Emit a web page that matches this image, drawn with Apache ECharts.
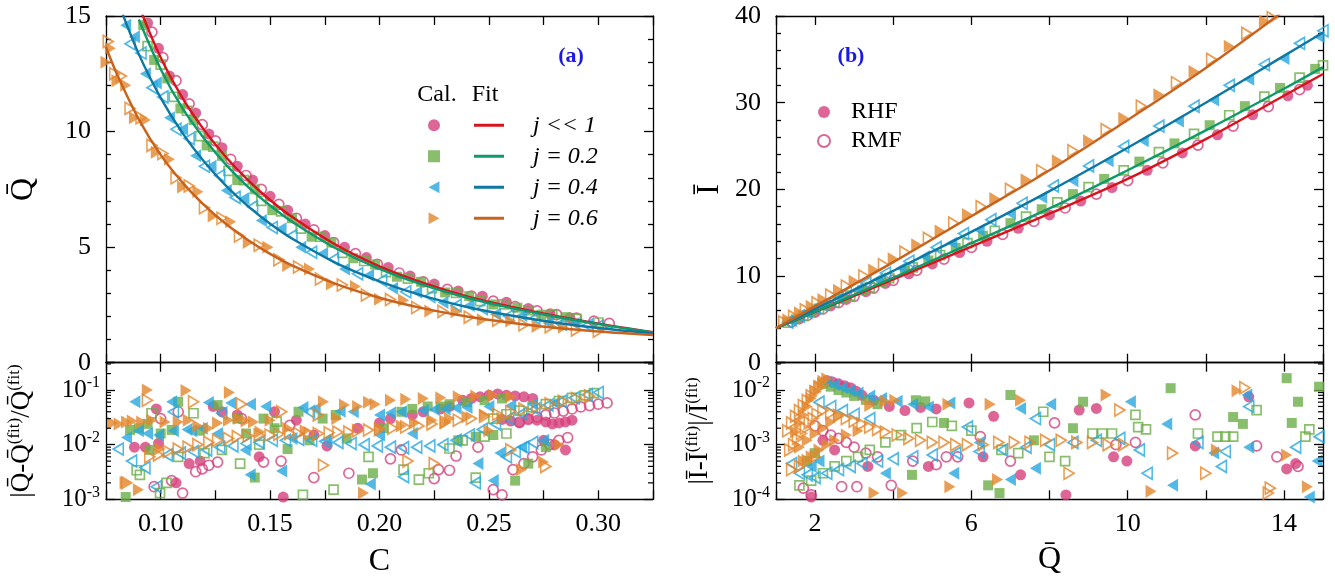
<!DOCTYPE html>
<html><head><meta charset="utf-8">
<script src="https://cdn.jsdelivr.net/npm/echarts@6/dist/echarts.min.js"></script>
<style>html,body{margin:0;padding:0;background:#fff}#c{width:1335px;height:577px}</style>
</head><body><div id="c"></div>
<script>
// ---------- Panel (a), upper: calculated points (C, Qbar) ----------
const a_hfC0 = [0.094,0.099,0.104,0.110,0.116,0.122,0.128,0.135,0.142,0.150,0.158,0.166,0.175,0.184,0.194,0.204,0.214,0.225,0.236,0.247,0.258,0.268,0.278,0.287];
const a_hfQ0 = [14.7,13.6,12.4,11.6,10.8,9.9,9.3,8.5,7.9,7.2,6.6,6.0,5.5,5.0,4.55,4.12,3.75,3.4,3.1,2.88,2.62,2.34,2.12,1.95];
const a_mfC0 = [0.096,0.101,0.107,0.113,0.119,0.125,0.132,0.139,0.146,0.154,0.162,0.170,0.179,0.189,0.199,0.209,0.220,0.231,0.242,0.252,0.262,0.272,0.281,0.290,0.298,0.305];
const a_mfQ0 = [14.3,13.2,12.2,11.2,10.3,9.6,8.8,8.1,7.5,6.85,6.25,5.75,5.2,4.72,4.26,3.88,3.5,3.17,2.88,2.66,2.43,2.24,2.08,1.93,1.8,1.7];
const a_hfC1 = [0.092,0.097,0.103,0.109,0.115,0.121,0.128,0.135,0.143,0.151,0.160,0.169,0.178,0.188,0.198,0.208,0.219,0.230,0.241,0.252,0.263,0.274,0.285];
const a_hfQ1 = [14.6,13.1,12.3,11.0,10.5,9.4,8.95,7.9,7.5,6.6,6.25,5.45,5.2,4.52,4.25,3.72,3.5,3.04,2.88,2.52,2.38,2.08,1.97];
const a_mfC1 = [0.094,0.100,0.106,0.112,0.118,0.124,0.131,0.138,0.146,0.155,0.164,0.173,0.183,0.193,0.203,0.213,0.224,0.235,0.246,0.257,0.268,0.279,0.290,0.300];
const a_mfQ1 = [13.7,12.9,11.5,10.9,9.8,9.35,8.3,7.9,7.0,6.55,5.8,5.45,4.75,4.4,3.92,3.64,3.23,3.02,2.66,2.52,2.27,2.07,1.9,1.74];
const a_hfC2 = [0.084,0.088,0.093,0.098,0.104,0.110,0.116,0.123,0.130,0.138,0.146,0.155,0.164,0.174,0.184,0.195,0.206,0.217,0.229,0.241,0.253,0.265,0.277,0.289];
const a_hfQ2 = [14.6,14.1,12.5,12.1,10.6,10.1,8.95,8.5,7.45,7.1,6.15,5.8,5.0,4.72,4.05,3.78,3.22,3.05,2.6,2.47,2.1,2.04,1.72,1.7];
const a_mfC2 = [0.086,0.091,0.096,0.101,0.107,0.113,0.120,0.127,0.134,0.142,0.151,0.160,0.169,0.179,0.190,0.201,0.212,0.223,0.235,0.247,0.259,0.271,0.283,0.295,0.300];
const a_mfQ2 = [13.8,13.4,11.9,11.5,10.1,9.7,8.5,8.1,7.15,6.75,5.85,5.5,4.78,4.48,3.85,3.56,3.07,2.88,2.48,2.35,2.02,1.93,1.68,1.62,1.58];
const a_hfC3 = [0.075,0.077,0.080,0.084,0.088,0.093,0.098,0.104,0.110,0.117,0.124,0.132,0.140,0.149,0.158,0.168,0.178,0.189,0.200,0.211,0.223,0.235,0.247,0.260,0.272,0.284];
const a_hfQ3 = [13.0,13.6,12.2,12.0,10.6,10.5,9.1,8.8,7.6,7.4,6.35,6.1,5.2,5.0,4.2,4.05,3.4,3.3,2.74,2.7,2.24,2.2,1.86,1.8,1.57,1.53];
const a_mfC3 = [0.076,0.079,0.082,0.086,0.091,0.096,0.101,0.107,0.113,0.120,0.128,0.136,0.145,0.154,0.163,0.173,0.183,0.194,0.205,0.217,0.229,0.241,0.254,0.266,0.278,0.290,0.300];
const a_mfQ3 = [13.9,12.5,12.4,11.0,10.6,9.4,9.05,8.0,7.65,6.7,6.25,5.48,5.08,4.45,4.14,3.62,3.36,2.93,2.73,2.39,2.22,1.97,1.84,1.64,1.56,1.42,1.36];

// ---------- Panel (a), fits ----------
const a_fitC01 = [0.09,0.10,0.11,0.12,0.13,0.14,0.15,0.16,0.18,0.20,0.22,0.24,0.26,0.28,0.30,0.325];
const a_fitQ0 = [15.45,13.2,11.45,10.05,8.88,7.89,7.04,6.31,5.10,4.17,3.45,2.87,2.42,2.03,1.69,1.32];
const a_fitQ1 = [14.85,12.7,11.0,9.68,8.55,7.6,6.8,6.1,4.95,4.06,3.37,2.81,2.37,2.0,1.67,1.31];
const a_fitC2 = [0.08,0.09,0.10,0.11,0.12,0.13,0.14,0.15,0.16,0.18,0.20,0.22,0.24,0.26,0.28,0.30,0.325];
const a_fitQ2 = [15.74,13.35,11.46,9.93,8.68,7.64,6.76,6.01,5.37,4.32,3.52,2.89,2.41,2.04,1.74,1.50,1.27];
const a_fitC3 = [0.075,0.08,0.09,0.10,0.11,0.12,0.13,0.14,0.15,0.16,0.18,0.20,0.22,0.24,0.26,0.28,0.30,0.325];
const a_fitQ3 = [13.66,12.49,10.53,8.99,7.79,6.81,5.99,5.30,4.71,4.21,3.41,2.81,2.35,2.00,1.73,1.51,1.35,1.20];

// ---------- Panel (a), lower: relative deviations ----------
const a_rhC0 = [0.088,0.098,0.099,0.107,0.113,0.124,0.128,0.152,0.156,0.162,0.176,0.190,0.205,0.215,0.228,0.238,0.242,0.246,0.250,0.254,0.258,0.262,0.266,0.270,0.268,0.272,0.276,0.279,0.282,0.285,0.288,0.275,0.280,0.285,0.093,0.118,0.135,0.145,0.170,0.200,0.220,0.232,0.256,0.260,0.264];
const a_rhR0 = [0.009,0.045,0.0105,0.002,0.0045,0.05,0.04,0.04,0.0011,0.028,0.0095,0.02,0.03,0.035,0.045,0.065,0.07,0.075,0.08,0.085,0.08,0.078,0.075,0.07,0.03,0.028,0.026,0.024,0.025,0.026,0.028,0.012,0.01,0.008,0.009,0.005,0.035,0.006,0.015,0.025,0.04,0.05,0.029,0.027,0.025];
const a_rmC0 = [0.097,0.100,0.105,0.108,0.110,0.116,0.119,0.122,0.126,0.137,0.147,0.155,0.159,0.170,0.186,0.205,0.210,0.225,0.227,0.235,0.232,0.245,0.252,0.256,0.261,0.264,0.268,0.272,0.276,0.280,0.284,0.288,0.292,0.296,0.300,0.304,0.266,0.270,0.274,0.278,0.282,0.286];
const a_rmR0 = [0.0017,0.03,0.0022,0.04,0.0013,0.0032,0.0036,0.0042,0.0048,0.03,0.0048,0.005,0.0226,0.0025,0.003,0.0055,0.008,0.0024,0.0035,0.0062,0.0034,0.009,0.0015,0.0012,0.0035,0.026,0.029,0.032,0.035,0.038,0.041,0.045,0.049,0.052,0.055,0.058,0.0045,0.006,0.008,0.010,0.012,0.0135];
const a_rhC1 = [0.084,0.086,0.094,0.095,0.105,0.108,0.126,0.135,0.143,0.152,0.158,0.163,0.174,0.185,0.192,0.197,0.202,0.210,0.222,0.232,0.240,0.248,0.256,0.262,0.268,0.276,0.090,0.100,0.118,0.139,0.147,0.168,0.180,0.215,0.228,0.236,0.244,0.252];
const a_rhR1 = [0.0011,0.0186,0.024,0.008,0.0186,0.061,0.053,0.03,0.0025,0.02,0.0083,0.04,0.03,0.013,0.0023,0.003,0.02,0.04,0.05,0.055,0.06,0.065,0.07,0.0022,0.0045,0.009,0.02,0.016,0.018,0.016,0.03,0.012,0.035,0.045,0.05,0.012,0.014,0.015];
const a_rmC1 = [0.089,0.0905,0.0958,0.0997,0.1027,0.108,0.115,0.120,0.128,0.1363,0.145,0.153,0.165,0.179,0.195,0.211,0.218,0.2225,0.232,0.244,0.252,0.258,0.264,0.270,0.276,0.282,0.288,0.294,0.298,0.238,0.248,0.258];
const a_rmR1 = [0.0034,0.0028,0.0376,0.0013,0.002,0.006,0.0376,0.007,0.008,0.0045,0.01,0.0264,0.0012,0.0015,0.006,0.0035,0.0023,0.003,0.0085,0.0025,0.03,0.036,0.042,0.048,0.055,0.063,0.072,0.08,0.088,0.012,0.014,0.016];
const a_rhC2 = [0.0882,0.0898,0.0844,0.105,0.1058,0.112,0.119,0.1218,0.1386,0.1409,0.141,0.1553,0.1706,0.182,0.1958,0.200,0.210,0.220,0.230,0.240,0.250,0.260,0.270,0.280,0.200,0.215,0.245,0.255,0.265,0.275,0.252,0.094,0.099,0.114,0.126,0.132,0.148,0.160,0.165,0.176,0.188,0.205,0.225,0.235];
const a_rhR2 = [0.061,0.018,0.0135,0.061,0.018,0.019,0.02,0.059,0.008,0.0028,0.055,0.0033,0.045,0.041,0.0019,0.035,0.04,0.042,0.045,0.048,0.05,0.052,0.055,0.058,0.015,0.016,0.0045,0.007,0.009,0.012,0.0022,0.016,0.015,0.018,0.016,0.058,0.05,0.013,0.048,0.012,0.04,0.038,0.044,0.047];
const a_rmC2 = [0.0806,0.0867,0.0928,0.098,0.1058,0.1279,0.168,0.103,0.109,0.115,0.121,0.127,0.133,0.139,0.145,0.151,0.157,0.163,0.169,0.175,0.181,0.187,0.193,0.199,0.205,0.211,0.217,0.223,0.229,0.235,0.241,0.247,0.253,0.259,0.265,0.271,0.277,0.283,0.289,0.295,0.300,0.211,0.2438,0.258,0.262,0.266,0.270];
const a_rmR2 = [0.0083,0.005,0.0038,0.0017,0.04,0.0376,0.04,0.0065,0.007,0.0075,0.008,0.009,0.0095,0.0105,0.011,0.012,0.012,0.0125,0.012,0.0115,0.011,0.0105,0.01,0.0095,0.009,0.0088,0.009,0.0095,0.01,0.012,0.015,0.019,0.024,0.03,0.037,0.045,0.053,0.062,0.072,0.082,0.09,0.0026,0.002,0.006,0.0075,0.009,0.011];
const a_rhC3 = [0.0939,0.1116,0.1314,0.1744,0.184,0.0844,0.0913,0.096,0.108,0.1126,0.1218,0.131,0.1355,0.1424,0.1805,0.0837,0.0898,0.0997,0.1454,0.195,0.205,0.212,0.220,0.228,0.236,0.244,0.252,0.260,0.1927,0.275,0.282,0.200,0.210,0.230,0.250,0.265,0.078,0.081,0.087,0.102,0.117,0.126,0.139,0.150,0.158,0.166,0.190,0.198,0.216,0.224,0.232,0.240,0.248,0.256];
const a_rhR3 = [0.1,0.098,0.09,0.061,0.053,0.026,0.026,0.028,0.026,0.028,0.02,0.028,0.03,0.026,0.03,0.002,0.0015,0.0083,0.017,0.06,0.065,0.068,0.07,0.072,0.075,0.078,0.08,0.075,0.0013,0.0048,0.01,0.02,0.022,0.025,0.018,0.0035,0.025,0.024,0.027,0.026,0.022,0.025,0.027,0.028,0.02,0.018,0.05,0.055,0.025,0.028,0.03,0.032,0.035,0.03];
const a_rmC3 = [0.0939,0.115,0.137,0.1553,0.172,0.0844,0.095,0.099,0.1035,0.108,0.1125,0.117,0.122,0.126,0.131,0.135,0.140,0.145,0.150,0.154,0.159,0.163,0.168,0.172,0.177,0.181,0.186,0.190,0.195,0.200,0.206,0.212,0.218,0.224,0.230,0.236,0.242,0.248,0.254,0.260,0.266,0.272,0.278,0.284,0.290,0.296,0.1744,0.213,0.225,0.260,0.276];
const a_rmR3 = [0.065,0.061,0.055,0.04,0.035,0.002,0.006,0.0065,0.0075,0.0083,0.009,0.01,0.011,0.012,0.013,0.014,0.0145,0.015,0.015,0.0155,0.016,0.016,0.016,0.016,0.0165,0.017,0.017,0.018,0.0185,0.019,0.02,0.021,0.022,0.024,0.026,0.028,0.03,0.033,0.036,0.04,0.045,0.05,0.056,0.062,0.07,0.078,0.0042,0.005,0.0045,0.008,0.004];

// ---------- Panel (b), upper: calculated points (Qbar, Ibar) ----------
const b_hfQ0 = [1.6,2.0,2.4,2.8,3.3,3.8,4.4,5.0,5.7,6.4,7.2,8.0,8.8,9.6,10.5,11.4,12.3,13.2,14.1,14.6];
const b_hfI0 = [5.05,5.8,6.55,7.3,8.2,9.15,10.25,11.4,12.7,14.0,15.5,17.05,18.65,20.2,22.2,24.2,26.3,28.6,30.8,32.0];
const b_mfQ0 = [1.4,1.8,2.2,2.6,3.0,3.5,4.0,4.6,5.3,6.0,6.8,7.6,8.4,9.2,10.0,10.9,11.8,12.7,13.6,14.4];
const b_mfI0 = [4.72,5.45,6.2,6.92,7.66,8.6,9.5,10.65,11.95,13.3,14.8,16.3,17.85,19.45,21.0,23.05,25.1,27.3,29.55,31.5];
const b_hfQ1 = [1.5,1.9,2.3,2.7,3.2,3.7,4.3,4.9,5.6,6.3,7.0,7.8,8.6,9.4,10.3,11.2,12.1,13.0,13.9,14.8];
const b_hfI1 = [5.0,5.8,6.6,7.35,8.35,9.3,10.6,11.8,13.25,14.65,16.1,17.7,19.45,21.2,23.2,25.3,27.4,29.6,31.7,33.9];
const b_mfQ1 = [1.3,1.7,2.1,2.5,2.9,3.4,3.9,4.5,5.2,5.9,6.6,7.4,8.2,9.0,9.9,10.8,11.7,12.6,13.5,14.4,15.0];
const b_mfI1 = [4.62,5.4,6.2,6.95,7.75,8.7,9.75,11.0,12.4,13.8,15.2,16.85,18.5,20.25,22.2,24.3,26.4,28.55,30.7,32.9,34.3];
const b_hfQ2 = [1.4,1.8,2.2,2.6,3.1,3.6,4.2,4.8,5.5,6.2,7.0,7.8,8.6,9.5,10.4,11.3,12.2,13.1,14.0,14.9];
const b_hfI2 = [4.85,5.7,6.55,7.45,8.5,9.6,10.9,12.25,13.8,15.3,17.2,19.1,21.0,23.3,25.6,27.9,30.3,32.7,35.1,37.6];
const b_mfQ2 = [1.3,1.6,2.0,2.4,2.8,3.3,3.8,4.4,5.1,5.8,6.5,7.3,8.1,9.0,9.9,10.8,11.7,12.6,13.5,14.4,15.0];
const b_mfI2 = [4.7,5.4,6.3,7.2,8.1,9.2,10.35,11.7,13.3,14.9,16.5,18.4,20.4,22.7,24.95,27.3,29.6,32.0,34.4,36.85,38.3];
const b_hfQ3 = [1.3,1.6,1.9,2.2,2.6,3.0,3.5,4.0,4.6,5.2,5.9,6.6,7.4,8.2,9.0,9.9,10.8,11.7,12.6,13.5];
const b_hfI3 = [4.95,5.75,6.5,7.3,8.35,9.4,10.7,12.0,13.6,15.2,17.1,18.95,21.1,23.3,25.6,28.2,30.9,33.6,36.5,39.4];
const b_mfQ3 = [1.2,1.45,1.75,2.05,2.4,2.8,3.25,3.75,4.3,4.9,5.55,6.25,7.0,7.8,8.6,9.45,10.35,11.25,12.15,13.05,13.7];
const b_mfI3 = [4.7,5.35,6.1,6.9,7.8,8.85,10.0,11.3,12.75,14.35,16.1,18.0,20.0,22.15,24.45,26.9,29.6,32.3,35.0,38.0,39.8];

// ---------- Panel (b), fits ----------
const b_fitQ = [1,2,4,6,8,10,12,14,15];
const b_fitI0 = [4.0,5.85,9.6,13.4,17.2,21.2,25.8,30.8,33.3];
const b_fitI1 = [4.0,5.9,9.8,13.8,17.8,22.2,26.8,31.6,34.1];
const b_fitI2 = [4.0,6.2,10.6,15.1,19.8,24.8,30.0,35.4,38.1];
const b_fitQ3 = [1,2,4,6,8,10,12,14];
const b_fitI3 = [4.0,6.5,11.6,16.9,22.2,28.0,34.0,40.6];

// ---------- Panel (b), lower: relative deviations ----------
const b_rhQ0 = [2.3,2.45,2.6,2.75,2.9,3.05,3.2,3.5,3.9,4.3,4.7,5.1,5.94,6.57,7.26,8.42,8.76,9.2,9.64,9.98,11.73,13.1,14.07,14.3,2.2,2.5,3.35,1.9,4.9,6.3];
const b_rhR0 = [0.015,0.014,0.013,0.012,0.011,0.0095,0.008,0.0065,0.005,0.0042,0.0048,0.0045,0.0058,0.0033,0.00028,0.00012,0.0043,0.0046,0.0006,0.0005,0.00095,0.0075,0.00036,0.00045,0.0012,0.0008,0.0004,0.00011,0.0004,0.0006];
const b_rmQ0 = [11.73,13.82,13.3,8.13,6.23,2.68,3.07,3.95,5.1,5.36,5.65,14.36,2.0,2.2,2.4,2.6,2.8,3.0,3.3,3.6,4.5,7.0,9.7,10.2,1.7,1.9];
const b_rmR0 = [0.0035,0.0006,0.00095,0.0025,0.0014,0.00017,0.00017,0.00018,0.00043,0.0006,0.0006,0.0004,0.0022,0.0018,0.0015,0.0013,0.0011,0.0009,0.0007,0.0006,0.0005,0.0005,0.001,0.0011,0.00016,0.00012];
const b_rhQ1 = [4.58,4.82,7.0,8.86,8.6,11.1,12.7,12.95,14.2,14.36,14.9,14.07,6.43,6.72,4.48,2.2,2.4,2.6,2.8,3.0,3.3,3.6,1.8,2.0,5.3,7.6];
const b_rhR1 = [0.0065,0.0062,0.0081,0.0061,0.002,0.0108,0.0032,0.0024,0.0025,0.0061,0.0115,0.0165,0.00018,0.00013,0.00028,0.013,0.0115,0.01,0.009,0.0078,0.0066,0.0055,0.0005,0.0007,0.0025,0.0012];
const b_rmQ1 = [7.84,10.2,10.27,10.47,13.3,11.8,12.3,12.5,12.7,14.55,14.65,9.1,9.35,9.6,6.77,1.6,1.9,2.2,2.5,2.8,3.1,3.4,3.8,4.2,4.6,5.0,5.5,6.0,7.2,8.0,8.4];
const b_rmR1 = [0.004,0.0035,0.0021,0.0019,0.0043,0.0016,0.0014,0.0014,0.0014,0.0014,0.0019,0.0016,0.0016,0.0016,0.0008,0.00018,0.00022,0.0003,0.0004,0.0005,0.0006,0.0008,0.0011,0.0015,0.002,0.0026,0.0022,0.0018,0.0007,0.0006,0.0005];
const b_rhQ2 = [5.45,7.26,8.03,10.07,11.0,13.05,13.1,14.85,14.65,5.55,7.0,7.64,11.15,3.8,2.3,2.5,2.7,2.9,3.1,3.4,3.7,4.1,4.5,4.9,1.9,2.1,6.2,12.2];
const b_rhR2 = [0.0058,0.0046,0.0055,0.0061,0.0024,0.0081,0.0009,0.0005,0.00011,0.0003,0.00023,0.00037,0.00018,0.0003,0.014,0.0125,0.011,0.0098,0.0088,0.0078,0.007,0.0062,0.0055,0.0049,0.0004,0.0005,0.0011,0.0007];
const b_rmQ2 = [7.64,5.9,10.3,11.8,12.5,13.1,14.3,14.9,10.5,12.4,1.4,1.6,1.8,2.0,2.3,2.6,2.9,3.2,3.6,4.0,4.5,5.0,5.6,6.2,6.8,7.4,8.0,8.6,9.2,9.8,2.1,2.4,2.7,3.0,3.4];
const b_rmR2 = [0.003,0.0021,0.0008,0.0011,0.00075,0.005,0.0009,0.0014,0.0003,0.0004,0.00045,0.0003,0.00028,0.00025,0.0003,0.00035,0.0004,0.00045,0.0005,0.00055,0.0006,0.00065,0.0007,0.00075,0.0008,0.0009,0.001,0.0011,0.0012,0.0013,0.006,0.005,0.0042,0.0036,0.003];
const b_rhQ3 = [1.5,1.6,1.7,1.8,1.9,2.0,2.1,2.2,2.3,1.6,1.8,2.0,2.2,2.4,2.6,1.7,1.9,2.1,2.3,2.5,2.8,3.1,4.04,5.4,6.48,7.26,9.45,12.8,3.51,4.24,5.45,6.67,10.6,14.6,14.07,12.27,3.4,3.8];
const b_rhR3 = [0.0017,0.0025,0.0035,0.005,0.007,0.0095,0.012,0.0145,0.016,0.0009,0.0012,0.0016,0.002,0.0026,0.0033,0.0005,0.0006,0.0008,0.001,0.0012,0.0015,0.0018,0.0065,0.0055,0.0055,0.0065,0.0081,0.0097,0.00013,0.00013,0.00017,0.00023,0.00014,0.00017,0.00065,0.0008,0.0052,0.0062];
const b_rmQ3 = [1.3,1.4,1.5,1.6,1.7,1.8,1.9,2.0,2.1,2.2,1.35,1.45,1.55,1.65,1.75,1.85,1.95,2.05,2.2,2.4,2.6,2.8,3.0,3.2,3.4,3.6,3.8,4.1,4.4,4.7,5.0,5.3,5.6,5.9,6.3,6.7,7.1,7.5,7.9,8.3,8.7,9.1,9.5,9.9,9.8,8.5,11.15,12.0,13.6,13.65,13.0,1.4,1.6,1.8,2.0];
const b_rmR3 = [0.0018,0.0025,0.0033,0.0042,0.0052,0.0064,0.0078,0.0093,0.011,0.0125,0.0008,0.001,0.0013,0.0016,0.002,0.0025,0.003,0.0036,0.0042,0.0038,0.0034,0.003,0.0027,0.0024,0.0021,0.0019,0.0017,0.0015,0.0013,0.0012,0.0011,0.0011,0.001,0.001,0.001,0.0011,0.0011,0.0011,0.0012,0.0012,0.0011,0.0011,0.001,0.001,0.0043,0.0003,0.0007,0.0003,0.00013,0.00016,0.011,0.00035,0.0004,0.0005,0.0006];

// ---------- tick values ----------
const aXLabels = [0.10,0.15,0.20,0.25,0.30];
const bXLabels = [2,6,10,14];
const logMinorA = [0.002,0.003,0.004,0.005,0.006,0.007,0.008,0.009,0.02,0.03,0.04,0.05,0.06,0.07,0.08,0.09,0.2,0.3];
const logMinorB = [0.0002,0.0003,0.0004,0.0005,0.0006,0.0007,0.0008,0.0009,0.002,0.003,0.004,0.005,0.006,0.007,0.008,0.009,0.02,0.03];
const fitNames = ['j << 1','j = 0.2','j = 0.4','j = 0.6'];

// ---------- styles ----------
const FONT = '"Liberation Serif", "Times New Roman", serif';
const CAL = ['#D6407C','#6BAF47','#27A8E0','#E3862C'];
const FIT = ['#D7141C','#0E9A6A','#0E77A2','#C8621C'];
const SYM = ['circle','rect','path://M10,0L0,5.5L10,11Z','path://M0,0L10,5.5L0,11Z'];
const SIZE = [[11,11],[10,10],[11,13],[11,13]];

const pairs = (xs, ys) => xs.slice(0, Math.min(xs.length, ys.length)).map((x, i) => [x, ys[i]]);

function cal(name, xi, yi, data, j, open) {
  const s = SIZE[j];
  return {
    type: 'scatter', name, xAxisIndex: xi, yAxisIndex: yi, data,
    symbol: SYM[j], symbolSize: open ? [s[0] - 1, s[1] - 1] : s,
    z: 2, silent: true, clip: true,
    itemStyle: open ? {color: 'rgba(255,255,255,0)', borderColor: CAL[j], borderWidth: 1.7} : {color: CAL[j], borderWidth: 0}
  };
}
function fit(name, xi, yi, data, j) {
  return {type: 'line', name, xAxisIndex: xi, yAxisIndex: yi, data, smooth: 0.35, symbol: 'none', showSymbol: false,
    z: 4, silent: true, clip: true, color: FIT[j], lineStyle: {color: FIT[j], width: 2.4}};
}
function minorTicks(xi, yi, vals, x0) {
  return {type: 'custom', xAxisIndex: xi, yAxisIndex: yi, silent: true, z: 6, clip: false,
    data: vals.map(v => [x0, v]),
    renderItem: (params, api) => {
      const cs = params.coordSys;
      const y = api.coord([api.value(0), api.value(1)])[1];
      const st = {stroke: '#000', lineWidth: 1.2};
      return {type: 'group', children: [
        {type: 'line', shape: {x1: cs.x, y1: y, x2: cs.x + 5, y2: y}, style: st},
        {type: 'line', shape: {x1: cs.x + cs.width - 5, y1: y, x2: cs.x + cs.width, y2: y}, style: st}
      ]};
    }};
}

const grids = [
  {left: 106, top: 16, width: 547, height: 346.7},
  {left: 106, top: 362.7, width: 547, height: 136.6},
  {left: 776, top: 16, width: 547, height: 346.7},
  {left: 776, top: 362.7, width: 547, height: 136.6}
].map(g => Object.assign({containLabel: false, outerBoundsMode: 'none', show: false}, g));

const lineSt = {color: '#000', width: 1.3};
function ax(gridIndex, position, extra) {
  return Object.assign({
    gridIndex, position, type: 'value',
    axisLine: {show: true, onZero: false, lineStyle: lineSt},
    axisTick: {show: true, inside: true, length: 9, lineStyle: lineSt},
    minorTick: {show: false},
    axisLabel: {show: false},
    splitLine: {show: false}, minorSplitLine: {show: false}
  }, extra);
}
const lab = (extra) => Object.assign({show: true, color: '#000', fontFamily: FONT, fontSize: 26}, extra);
const aX = {min: 0.075, max: 0.325, interval: 0.025};
const bX = {min: 1, max: 15, minInterval: 2, maxInterval: 2, splitNumber: 7};
const aY = {min: 0, max: 15, interval: 5, minorTick: {show: true, splitNumber: 5, length: 5, lineStyle: lineSt}};
const bY = {min: 0, max: 40, interval: 10, minorTick: {show: true, splitNumber: 5, length: 5, lineStyle: lineSt}};
const logA = {type: 'log', logBase: 10, min: 0.001, max: Math.pow(10, -0.5)};
const logB = {type: 'log', logBase: 10, min: 0.0001, max: Math.pow(10, -1.5)};
const logFmt = v => { const e = Math.log10(v); const n = Math.round(e); return Math.abs(e - n) < 1e-6 ? '10{s|' + n + '}' : ''; };
const logLab = lab({fontSize: 25, margin: 6, lineHeight: 30, formatter: logFmt,
  rich: {s: {fontSize: 16, fontFamily: FONT, color: '#000', verticalAlign: 'top', lineHeight: 16}}});
const nameSt = (size, extra) => Object.assign({fontFamily: FONT, fontSize: size, color: '#000'}, extra);
const supRich = {s: {fontSize: 17, fontFamily: FONT, color: '#000', verticalAlign: 'top', lineHeight: 17}};

const xAxes = [
  ax(0, 'bottom', aX), ax(0, 'top', aX),
  ax(1, 'bottom', Object.assign({}, aX, {
    axisLabel: lab({margin: 12, interval: 0, formatter: v => aXLabels.some(t => Math.abs(t - v) < 1e-6) ? v.toFixed(2) : ''}),
    name: 'C', nameLocation: 'middle', nameGap: 46, nameTextStyle: nameSt(32)})),
  ax(1, 'top', aX),
  ax(2, 'bottom', bX), ax(2, 'top', bX),
  ax(3, 'bottom', Object.assign({}, bX, {
    axisLabel: lab({margin: 12, interval: 0, formatter: v => bXLabels.some(t => Math.abs(t - v) < 1e-6) ? String(v) : ''}),
    name: 'Q\u0304', nameLocation: 'middle', nameGap: 44, nameTextStyle: nameSt(32)})),
  ax(3, 'top', bX)
];
const yAxes = [
  ax(0, 'left', Object.assign({}, aY, {axisLabel: lab({margin: 15}),
    name: 'Q\u0304', nameLocation: 'middle', nameRotate: 90, nameGap: 66, nameTextStyle: nameSt(32)})),
  ax(0, 'right', aY),
  ax(1, 'left', Object.assign({}, logA, {axisLabel: logLab,
    name: '|Q\u0304-Q\u0304{s|(fit)}/Q\u0304{s|(fit)}', nameLocation: 'middle', nameRotate: 90, nameGap: 68,
    nameTextStyle: nameSt(27, {lineHeight: 32, rich: supRich})})),
  ax(1, 'right', logA),
  ax(2, 'left', Object.assign({}, bY, {axisLabel: lab({margin: 15}),
    name: '\u012A', nameLocation: 'middle', nameRotate: 90, nameGap: 50, nameTextStyle: nameSt(32)})),
  ax(2, 'right', bY),
  ax(3, 'left', Object.assign({}, logB, {axisLabel: logLab,
    name: '|\u012A-\u012A{s|(fit)}|/\u012A{s|(fit)}', nameLocation: 'middle', nameRotate: 90, nameGap: 60,
    nameTextStyle: nameSt(27, {lineHeight: 32, rich: supRich})})),
  ax(3, 'right', logB)
];

const aTopHF = [[a_hfC0,a_hfQ0],[a_hfC1,a_hfQ1],[a_hfC2,a_hfQ2],[a_hfC3,a_hfQ3]];
const aTopMF = [[a_mfC0,a_mfQ0],[a_mfC1,a_mfQ1],[a_mfC2,a_mfQ2],[a_mfC3,a_mfQ3]];
const aBotHF = [[a_rhC0,a_rhR0],[a_rhC1,a_rhR1],[a_rhC2,a_rhR2],[a_rhC3,a_rhR3]];
const aBotMF = [[a_rmC0,a_rmR0],[a_rmC1,a_rmR1],[a_rmC2,a_rmR2],[a_rmC3,a_rmR3]];
const bTopHF = [[b_hfQ0,b_hfI0],[b_hfQ1,b_hfI1],[b_hfQ2,b_hfI2],[b_hfQ3,b_hfI3]];
const bTopMF = [[b_mfQ0,b_mfI0],[b_mfQ1,b_mfI1],[b_mfQ2,b_mfI2],[b_mfQ3,b_mfI3]];
const bBotHF = [[b_rhQ0,b_rhR0],[b_rhQ1,b_rhR1],[b_rhQ2,b_rhR2],[b_rhQ3,b_rhR3]];
const bBotMF = [[b_rmQ0,b_rmR0],[b_rmQ1,b_rmR1],[b_rmQ2,b_rmR2],[b_rmQ3,b_rmR3]];
const aFits = [[a_fitC01,a_fitQ0],[a_fitC01,a_fitQ1],[a_fitC2,a_fitQ2],[a_fitC3,a_fitQ3]];
const bFits = [[b_fitQ,b_fitI0],[b_fitQ,b_fitI1],[b_fitQ,b_fitI2],[b_fitQ3,b_fitI3]];

const series = [];
for (let j = 0; j < 4; j++) {
  series.push(cal('aHF' + j, 0, 0, pairs(...aTopHF[j]), j, false));
  series.push(cal('aMF' + j, 0, 0, pairs(...aTopMF[j]), j, true));
  series.push(cal('raHF' + j, 2, 2, pairs(...aBotHF[j]), j, false));
  series.push(cal('raMF' + j, 2, 2, pairs(...aBotMF[j]), j, true));
  series.push(cal(j === 0 ? 'RHF' : 'bHF' + j, 4, 4, pairs(...bTopHF[j]), j, false));
  series.push(cal(j === 0 ? 'RMF' : 'bMF' + j, 4, 4, pairs(...bTopMF[j]), j, true));
  series.push(cal('rbHF' + j, 6, 6, pairs(...bBotHF[j]), j, false));
  series.push(cal('rbMF' + j, 6, 6, pairs(...bBotMF[j]), j, true));
}
for (let j = 0; j < 4; j++) {
  series.push(fit(fitNames[j], 0, 0, pairs(...aFits[j]), j));
  series.push(fit('bfit' + j, 4, 4, pairs(...bFits[j]), j));
}
series.push(minorTicks(2, 2, logMinorA, 0.2));
series.push(minorTicks(6, 6, logMinorB, 8));

const legTxt = (extra) => Object.assign({fontFamily: FONT, fontSize: 24, color: '#000'}, extra);
const option = {
  animation: false,
  backgroundColor: '#fff',
  textStyle: {fontFamily: FONT},
  grid: grids,
  xAxis: xAxes,
  yAxis: yAxes,
  legend: [
    {data: ['aHF0','aHF1','aHF2','aHF3'], orient: 'vertical', left: 428, top: 110, padding: 0,
      itemWidth: 12, itemHeight: 12, itemGap: 0.5, selectedMode: false, formatter: () => ' ',
      textStyle: legTxt({lineHeight: 30.5})},
    {data: fitNames, orient: 'vertical', left: 474, top: 110, padding: 0, icon: 'rect',
      itemWidth: 30, itemHeight: 3, itemGap: 0.5, selectedMode: false,
      textStyle: legTxt({lineHeight: 30.5, fontStyle: 'italic', padding: [0, 0, 0, 24]})},
    {data: ['RHF','RMF'], orient: 'vertical', left: 817, top: 97.5, padding: 0,
      itemWidth: 12, itemHeight: 12, itemGap: 0, selectedMode: false,
      textStyle: legTxt({lineHeight: 29, padding: [0, 0, 0, 16]})}
  ],
  graphic: [
    {type: 'text', x: 437, y: 95, style: {text: 'Cal.', fontSize: 24, fontFamily: FONT, fill: '#000', align: 'center', verticalAlign: 'middle'}},
    {type: 'text', x: 485, y: 95, style: {text: 'Fit', fontSize: 24, fontFamily: FONT, fill: '#000', align: 'center', verticalAlign: 'middle'}},
    {type: 'text', x: 571, y: 56, style: {text: '(a)', fontSize: 22, fontWeight: 'bold', fontFamily: FONT, fill: '#1A1AE6', align: 'center', verticalAlign: 'middle'}},
    {type: 'text', x: 851, y: 56, style: {text: '(b)', fontSize: 22, fontWeight: 'bold', fontFamily: FONT, fill: '#1A1AE6', align: 'center', verticalAlign: 'middle'}}
  ],
  series
};
const chart = echarts.init(document.getElementById('c'), null, {renderer: 'canvas'});
chart.setOption(option);
</script></body></html>
